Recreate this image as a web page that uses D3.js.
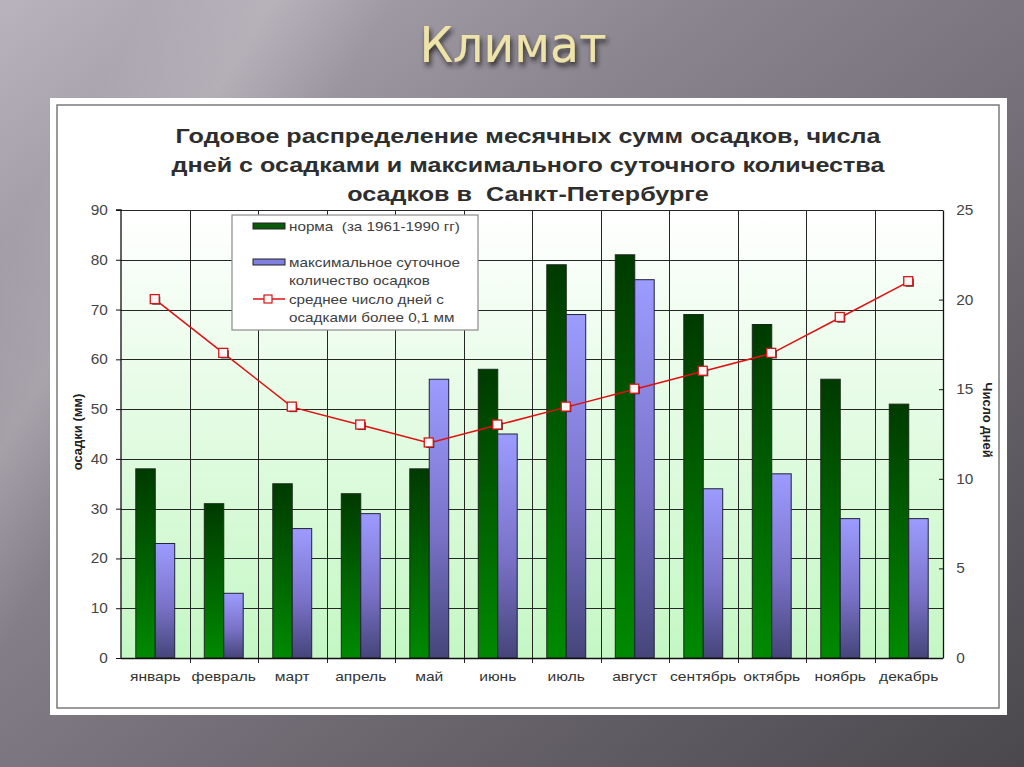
<!DOCTYPE html>
<html>
<head>
<meta charset="utf-8">
<script src="https://cdn.jsdelivr.net/npm/d3@7"></script>
<style>
  html, body { margin: 0; padding: 0; overflow: hidden; }
  svg { display: block; }
  svg text { white-space: pre; }
</style>
</head>
<body>
<svg id="chart" width="1024" height="767"></svg>
<script>
// --- data ---
var months = ["январь", "февраль", "март", "апрель", "май", "июнь",
              "июль", "август", "сентябрь", "октябрь", "ноябрь", "декабрь"];
var normValues = [38, 31, 35, 33, 38, 58, 79, 81, 69, 67, 56, 51];   // норма, мм
var maxValues  = [23, 13, 26, 29, 56, 45, 69, 76, 34, 37, 28, 28];   // макс. суточное, мм
var rainDays   = [20, 17, 14, 13, 12, 13, 14, 15, 16, 17, 19, 21];   // число дней
var leftTicks  = [0, 10, 20, 30, 40, 50, 60, 70, 80, 90];
var rightTicks = [0, 5, 10, 15, 20, 25];
var titleLines = ["Годовое распределение месячных сумм осадков, числа",
                  "дней с осадками и максимального суточного количества",
                  "осадков в  Санкт-Петербурге"];
var legendItems = [
  {key: "norm", lines: ["норма  (за 1961-1990 гг)"]},
  {key: "max",  lines: ["максимальное суточное", "количество осадков"]},
  {key: "days", lines: ["среднее число дней с", "осадками более 0,1 мм"]}
];

var svg = d3.select("#chart");
var defs = svg.append("defs");
var axisFont = "'Liberation Sans', Arial, sans-serif";
var stretch = 1.2;  // the slide picture is stretched sideways

// slide background
var bg = defs.append("linearGradient").attr("id", "slideBg")
    .attr("x1", "0").attr("y1", "0").attr("x2", "1").attr("y2", "1");
bg.append("stop").attr("offset", "0").attr("stop-color", "#b9b3bd");
bg.append("stop").attr("offset", "0.35").attr("stop-color", "#8a848e");
bg.append("stop").attr("offset", "1").attr("stop-color", "#4a474d");
var streak = defs.append("linearGradient").attr("id", "streak")
    .attr("x1", "0").attr("y1", "0").attr("x2", "1").attr("y2", "0.45");
streak.append("stop").attr("offset", "0.12").attr("stop-color", "#fff").attr("stop-opacity", 0);
streak.append("stop").attr("offset", "0.22").attr("stop-color", "#fff").attr("stop-opacity", 0.18);
streak.append("stop").attr("offset", "0.32").attr("stop-color", "#fff").attr("stop-opacity", 0);

var plotBg = defs.append("linearGradient").attr("id", "plotBg")
    .attr("x1", "0").attr("y1", "0").attr("x2", "0").attr("y2", "1");
plotBg.append("stop").attr("offset", "0").attr("stop-color", "#ffffff");
plotBg.append("stop").attr("offset", "1").attr("stop-color", "#c4f7c4");

var greenGrad = defs.append("linearGradient").attr("id", "greenGrad")
    .attr("x1", "0").attr("y1", "0").attr("x2", "0").attr("y2", "1");
greenGrad.append("stop").attr("offset", "0").attr("stop-color", "#003a00");
greenGrad.append("stop").attr("offset", "1").attr("stop-color", "#008a00");

var blueGrad = defs.append("linearGradient").attr("id", "blueGrad")
    .attr("x1", "0").attr("y1", "0").attr("x2", "0").attr("y2", "1");
blueGrad.append("stop").attr("offset", "0").attr("stop-color", "#9c9cff");
blueGrad.append("stop").attr("offset", "0.55").attr("stop-color", "#7a72c8");
blueGrad.append("stop").attr("offset", "1").attr("stop-color", "#45457a");

var shadow = defs.append("filter").attr("id", "txtShadow")
    .attr("x", "-20%").attr("y", "-20%").attr("width", "140%").attr("height", "160%");
shadow.append("feDropShadow").attr("dx", 2).attr("dy", 4).attr("stdDeviation", 2.5)
    .attr("flood-color", "#1a1a1a").attr("flood-opacity", 0.85);

svg.append("rect").attr("width", 1024).attr("height", 767).attr("fill", "url(#slideBg)");
svg.append("rect").attr("width", 1024).attr("height", 767).attr("fill", "url(#streak)");

svg.append("text")
    .attr("x", 513).attr("y", 62)
    .attr("text-anchor", "middle")
    .attr("font-family", "'Liberation Sans Narrow', 'DejaVu Sans Condensed', sans-serif")
    .attr("font-size", 50)
    .attr("textLength", 187).attr("lengthAdjust", "spacingAndGlyphs")
    .attr("fill", "#eee3a8")
    .attr("filter", "url(#txtShadow)")
    .text("Климат");

// picture frame
svg.append("rect").attr("x", 50).attr("y", 98).attr("width", 957).attr("height", 617)
    .attr("fill", "#ffffff");
svg.append("rect").attr("x", 57).attr("y", 105).attr("width", 942).attr("height", 603)
    .attr("fill", "none").attr("stroke", "#7a7a7a").attr("stroke-width", 1.5);

// chart title, widened like the source picture
var titleG = svg.append("g");
var titleTexts = titleG.selectAll("text").data(titleLines).join("text")
    .attr("text-anchor", "middle")
    .attr("font-family", axisFont)
    .attr("font-weight", "bold")
    .attr("font-size", 21)
    .attr("fill", "#2e2e2e")
    .text(function(d) { return d; });
var firstLen = titleTexts.node().getComputedTextLength();
var titleScale = 705 / firstLen;
titleTexts.attr("transform", function(d, i) {
  return "translate(" + [528, 143 + i * 29] + ") scale(" + titleScale + ",1)";
});

// scales
var plotLeft = 121, plotRight = 943, plotTop = 210, plotBottom = 658;
var x = d3.scaleBand().domain(months).range([plotLeft, plotRight]).padding(0);
var xs = d3.scaleBand().domain(["norm", "max"]).range([0, x.bandwidth()])
    .paddingInner(0).paddingOuter(0.76);
var y = d3.scaleLinear().domain([0, 90]).range([plotBottom, plotTop]);
var yR = d3.scaleLinear().domain([0, 25]).range([plotBottom, plotTop]);

var plot = svg.append("g");
plot.append("rect").attr("x", plotLeft).attr("y", plotTop)
    .attr("width", plotRight - plotLeft).attr("height", plotBottom - plotTop)
    .attr("fill", "url(#plotBg)");

// gridlines
plot.append("g").selectAll("line").data(leftTicks.slice(1)).join("line")
    .attr("x1", plotLeft).attr("x2", plotRight)
    .attr("y1", function(d) { return Math.round(y(d)) + 0.5; })
    .attr("y2", function(d) { return Math.round(y(d)) + 0.5; })
    .attr("stroke", "#262626").attr("stroke-width", 1);
plot.append("g").selectAll("line").data(months.slice(1)).join("line")
    .attr("x1", function(d) { return Math.round(x(d)) + 0.5; })
    .attr("x2", function(d) { return Math.round(x(d)) + 0.5; })
    .attr("y1", plotTop).attr("y2", plotBottom + 5)
    .attr("stroke", "#262626").attr("stroke-width", 1);

// bars
var groups = plot.append("g").selectAll("g").data(months).join("g")
    .attr("transform", function(d) { return "translate(" + x(d) + ",0)"; });
groups.append("rect")
    .attr("x", xs("norm")).attr("width", xs.bandwidth())
    .attr("y", function(d, i) { return y(normValues[i]); })
    .attr("height", function(d, i) { return plotBottom - y(normValues[i]); })
    .attr("fill", "url(#greenGrad)").attr("stroke", "#1a2a1a").attr("stroke-width", 1);
groups.append("rect")
    .attr("x", xs("max")).attr("width", xs.bandwidth())
    .attr("y", function(d, i) { return y(maxValues[i]); })
    .attr("height", function(d, i) { return plotBottom - y(maxValues[i]); })
    .attr("fill", "url(#blueGrad)").attr("stroke", "#22223a").attr("stroke-width", 1);

// axes
var yAxis = svg.append("g").attr("transform", "translate(" + plotLeft + ",0)")
    .call(d3.axisLeft(y).tickValues(leftTicks).tickSize(5).tickPadding(7));
var yAxisR = svg.append("g").attr("transform", "translate(" + plotRight + ",0)")
    .call(d3.axisRight(yR).tickValues(rightTicks).tickSize(0).tickPadding(12));
yAxisR.selectAll(".tick").append("line").attr("x1", -4).attr("x2", 0)
    .attr("stroke", "#111");
var xAxis = svg.append("g").attr("transform", "translate(0," + plotBottom + ")")
    .call(d3.axisBottom(x).tickSize(0).tickPadding(14));
[yAxis, yAxisR, xAxis].forEach(function(a) {
  a.select(".domain").attr("stroke", "#111").attr("stroke-width", 1.3);
  a.selectAll(".tick line").attr("stroke", "#111");
  a.selectAll("text").attr("font-family", axisFont).attr("font-size", 14)
      .attr("fill", "#454545").attr("transform", "scale(1.1,1)");
});
xAxis.selectAll("text").attr("fill", "#333").attr("font-size", 13)
    .attr("transform", "scale(" + stretch + ",1)");
xAxis.select(".domain").attr("d", "M" + plotLeft + ",0.5H" + plotRight);
yAxis.select(".domain").attr("d", "M-5," + plotTop + "H0V" + plotBottom);

svg.append("text")
    .attr("transform", "translate(82," + 432 + ") rotate(-90)")
    .attr("text-anchor", "middle")
    .attr("font-family", axisFont).attr("font-weight", "bold").attr("font-size", 13)
    .attr("fill", "#222").text("осадки (мм)");
svg.append("text")
    .attr("transform", "translate(983," + 420 + ") rotate(90)")
    .attr("text-anchor", "middle")
    .attr("font-family", axisFont).attr("font-weight", "bold").attr("font-size", 13)
    .attr("fill", "#222").text("Число дней");

// line series
var cx = function(d, i) { return x(months[i]) + x.bandwidth() / 2; };
var line = d3.line().x(cx).y(function(d) { return yR(d); });
plot.append("path").datum(rainDays).attr("d", line)
    .attr("fill", "none").attr("stroke", "#e01010").attr("stroke-width", 1.5);
plot.append("g").selectAll("rect").data(rainDays).join("rect")
    .attr("x", function(d, i) { return cx(d, i) - 3; })
    .attr("y", function(d) { return yR(d) - 3; })
    .attr("width", 8).attr("height", 8).attr("fill", "#222");
plot.append("g").selectAll("rect").data(rainDays).join("rect")
    .attr("x", function(d, i) { return cx(d, i) - 5; })
    .attr("y", function(d) { return yR(d) - 5; })
    .attr("width", 9).attr("height", 9)
    .attr("fill", "#fff6f6").attr("stroke", "#d01818").attr("stroke-width", 1.3);

// legend
var lg = svg.append("g");
lg.append("rect").attr("x", 232).attr("y", 215).attr("width", 246).attr("height", 115)
    .attr("fill", "#ffffff").attr("stroke", "#8a8a8a").attr("stroke-width", 1.2);
var legendY = [226, 262, 299];
legendItems.forEach(function(item, k) {
  var ly = legendY[k];
  if (item.key === "norm" || item.key === "max") {
    lg.append("rect").attr("x", 253).attr("y", ly - 3).attr("width", 32).attr("height", 6)
        .attr("fill", item.key === "norm" ? "#0b5a0b" : "#8080e0")
        .attr("stroke", "#222").attr("stroke-width", 1);
  } else {
    lg.append("line").attr("x1", 253).attr("x2", 285).attr("y1", ly).attr("y2", ly)
        .attr("stroke", "#e01010").attr("stroke-width", 1.5);
    lg.append("rect").attr("x", 264).attr("y", ly - 4).attr("width", 8).attr("height", 8)
        .attr("fill", "#fff6f6").attr("stroke", "#d01818").attr("stroke-width", 1.2);
  }
  item.lines.forEach(function(t, j) {
    lg.append("text")
        .attr("transform", "translate(" + [289, ly + 5 + j * 18] + ") scale(1.22,1)")
        .attr("font-family", axisFont).attr("font-size", 12.5).attr("fill", "#404040")
        .text(t);
  });
});
</script>
</body>
</html>
